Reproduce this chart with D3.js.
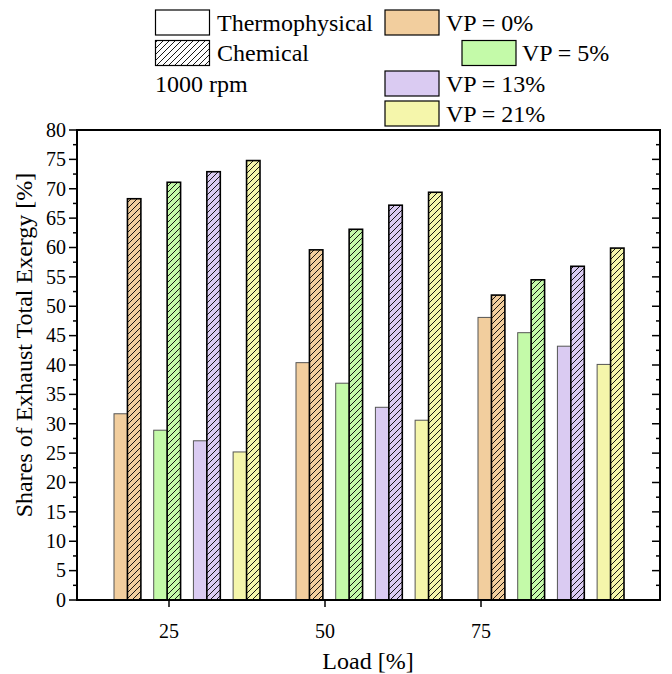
<!DOCTYPE html>
<html><head><meta charset="utf-8">
<script src="https://cdn.jsdelivr.net/npm/d3@7"></script>
<style>
html,body{margin:0;padding:0;background:#fff;}
</style></head>
<body><svg id="chart" width="672" height="674"></svg>
<script>
const categories = ["25", "50", "75"];
const seriesNames = ["VP = 0%", "VP = 5%", "VP = 13%", "VP = 21%"];
const seriesColors = ["#F2CE9E", "#C4FAA9", "#DACBF2", "#F5F6AB"];
const thermophysical = [
  [31.7, 40.4, 48.1],
  [28.9, 36.9, 45.5],
  [27.1, 32.8, 43.2],
  [25.2, 30.6, 40.1]
];
const chemical = [
  [68.3, 59.6, 51.9],
  [71.1, 63.1, 54.5],
  [72.9, 67.2, 56.8],
  [74.8, 69.4, 59.9]
];
const yTicks = [0,5,10,15,20,25,30,35,40,45,50,55,60,65,70,75,80];

const svg = d3.select("#chart");
const L = 77, R = 660, T = 130, B = 600;
const fontStyle = size => "font-family:'Liberation Serif' !important;font-size:" + size + "px";

const defs = svg.append("defs");
seriesColors.concat(["#FFFFFF"]).forEach((c, i) => {
  const p = defs.append("pattern").attr("id", "hatch" + i)
    .attr("patternUnits", "userSpaceOnUse").attr("width", 6).attr("height", 6);
  p.append("rect").attr("width", 6).attr("height", 6).attr("fill", c);
  p.append("path").attr("d", "M0,6 L6,0 M-1,1 L1,-1 M5,7 L7,5")
    .attr("stroke", "#000").attr("stroke-width", 0.9);
});

const y = d3.scaleLinear().domain([0, 80]).range([B, T]);
const xGroup = d3.scaleBand().domain(categories).range([96, 642]).padding(0);
const xTick = d3.scalePoint().domain(categories).range([169, 481]);
const xSeries = d3.scaleBand().domain(seriesNames).range([-73, 73]).paddingInner(0.323).paddingOuter(0);
const xPart = d3.scaleBand().domain(["t", "c"]).range([0, xSeries.bandwidth()]);

// bars
seriesNames.forEach((s, si) => {
  const g = svg.append("g");
  categories.forEach((cat, ci) => {
    const x0 = xGroup(cat) + xGroup.bandwidth() / 2 + xSeries(s);
    const vt = thermophysical[si][ci], vc = chemical[si][ci];
    g.append("rect").attr("x", x0 + xPart("t")).attr("y", y(vt))
      .attr("width", xPart.bandwidth()).attr("height", y(0) - y(vt))
      .attr("fill", seriesColors[si]).attr("stroke", "#555").attr("stroke-width", 1);
    g.append("rect").attr("x", x0 + xPart("c")).attr("y", y(vc))
      .attr("width", xPart.bandwidth()).attr("height", y(0) - y(vc))
      .attr("fill", "url(#hatch" + si + ")").attr("stroke", "#000").attr("stroke-width", 1.6);
  });
});

// frame
svg.append("rect").attr("x", L).attr("y", T).attr("width", R - L).attr("height", B - T)
  .attr("fill", "none").attr("stroke", "#000").attr("stroke-width", 2);

// axes
const minor = d3.range(2.5, 80, 5);
const ga = svg.append("g");
yTicks.forEach(v => {
  ga.append("line").attr("x1", L - 8).attr("x2", L).attr("y1", y(v)).attr("y2", y(v)).attr("stroke", "#000").attr("stroke-width", 1.5);
  ga.append("line").attr("x1", R).attr("x2", R - 8).attr("y1", y(v)).attr("y2", y(v)).attr("stroke", "#000").attr("stroke-width", 1.5);
  ga.append("text").attr("x", L - 11).attr("y", y(v)).attr("dy", "0.34em")
    .attr("text-anchor", "end").attr("style", fontStyle(20)).text(v);
});
minor.forEach(v => {
  ga.append("line").attr("x1", L - 4).attr("x2", L).attr("y1", y(v)).attr("y2", y(v)).attr("stroke", "#000").attr("stroke-width", 1.5);
  ga.append("line").attr("x1", R).attr("x2", R - 4).attr("y1", y(v)).attr("y2", y(v)).attr("stroke", "#000").attr("stroke-width", 1.5);
});
categories.forEach(c => {
  ga.append("line").attr("x1", xTick(c)).attr("x2", xTick(c)).attr("y1", B).attr("y2", B + 7).attr("stroke", "#000").attr("stroke-width", 1.5);
  ga.append("text").attr("x", xTick(c)).attr("y", 638).attr("text-anchor", "middle").attr("style", fontStyle(20)).text(c);
});

// titles
svg.append("text").attr("x", 368).attr("y", 669).attr("text-anchor", "middle").attr("style", fontStyle(24)).text("Load [%]");
svg.append("text").attr("transform", "translate(32,345) rotate(-90)").attr("text-anchor", "middle").attr("style", fontStyle(24))
  .text("Shares of Exhaust Total Exergy [%]");

// legend
const lg = svg.append("g");
const box = (x, yTop, fill, sw) => lg.append("rect").attr("x", x).attr("y", yTop).attr("width", 54).attr("height", 25)
  .attr("fill", fill).attr("stroke", "#000").attr("stroke-width", sw);
const txt = (x, yc, t) => lg.append("text").attr("x", x).attr("y", yc).attr("dy", "0.35em").attr("style", fontStyle(24)).text(t);
box(155.5, 10, "#FFFFFF", 1.2); txt(217, 22.5, "Thermophysical");
box(155.5, 40.5, "url(#hatch4)", 1.2); txt(217, 53, "Chemical");
txt(155, 83.5, "1000 rpm");
const legRows = [[385, 10, 446], [462, 40.5, 522], [385, 71, 446], [385, 101, 446]];
seriesNames.forEach((s, i) => {
  const [bx, by, tx] = legRows[i];
  box(bx, by, seriesColors[i], 1.2);
  txt(tx, by + 12.5, s);
});
</script></body></html>
